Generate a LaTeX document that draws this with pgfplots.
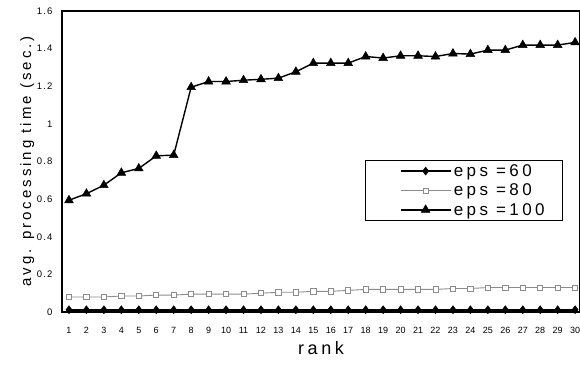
\documentclass[border=0pt]{standalone}
\usepackage{fontspec}
\setmainfont{Liberation Sans}
\newfontfamily\sptick[LetterSpace=12]{Liberation Sans}
\newfontfamily\splab[LetterSpace=20]{Liberation Sans}
\usepackage{pgfplots}
\pgfplotsset{compat=1.18}
\begin{document}
\begin{tikzpicture}[x=1pt,y=1pt]
\begin{axis}[
  scale only axis, width=518pt, height=301pt,
  xmin=0.6, xmax=30.28, ymin=0, ymax=1.6,
  clip=false,
  axis line style={line width=1.6pt},
  xtick={1,...,30}, ytick={0,0.2,...,1.6},
  major tick length=0pt,
  /pgf/number format/assume math mode=true,
  /pgf/number format/fixed, /pgf/number format/precision=1,
  xticklabel style={font=\fontsize{9}{10}\selectfont, yshift=-12pt},
  yticklabel style={font=\sptick\fontsize{9.5}{10}\selectfont, xshift=-6pt},
  xlabel={\splab rank}, xlabel style={font=\fontsize{18}{20}\selectfont, yshift=-1pt},
  ylabel={\splab avg. processing time (sec.)}, ylabel style={font=\fontsize{15}{17}\selectfont, yshift=-4pt},
  legend style={at={(rel axis cs:0.585,0.505)}, anchor=north west, draw=black, line width=0.8pt,
    inner xsep=16pt, inner ysep=2pt, row sep=2pt,
    font=\splab\fontsize{17}{18}\selectfont, nodes={inner sep=2pt}},
  legend cell align=left,
  legend image code/.code={\path (0pt,0pt); \draw[#1, no marks] plot coordinates {(18pt,0pt) (68pt,0pt)};
     \draw[#1, only marks] plot coordinates {(43pt,0pt)};},
]
\addplot[black, line width=2.4pt, mark=diamond*, mark size=4pt, mark options={line width=0.5pt}] coordinates {
(1,0.012)(2,0.012)(3,0.012)(4,0.012)(5,0.012)(6,0.012)(7,0.012)(8,0.012)(9,0.012)(10,0.012)
(11,0.012)(12,0.012)(13,0.012)(14,0.012)(15,0.012)(16,0.012)(17,0.012)(18,0.012)(19,0.012)(20,0.012)
(21,0.012)(22,0.012)(23,0.012)(24,0.012)(25,0.012)(26,0.012)(27,0.012)(28,0.012)(29,0.012)(30,0.012)};
\addlegendentry{eps =60}
\addplot[black!45, line width=0.9pt, mark=square*, mark size=2.6pt, mark options={fill=white, draw=black!45, line width=0.7pt}] coordinates {
(1,0.08)(2,0.08)(3,0.08)(4,0.085)(5,0.085)(6,0.09)(7,0.09)(8,0.095)(9,0.095)(10,0.095)
(11,0.095)(12,0.1)(13,0.105)(14,0.105)(15,0.11)(16,0.11)(17,0.115)(18,0.12)(19,0.12)(20,0.12)
(21,0.12)(22,0.12)(23,0.125)(24,0.125)(25,0.13)(26,0.13)(27,0.13)(28,0.13)(29,0.13)(30,0.13)};
\addlegendentry{eps =80}
\addplot[black, line width=1.4pt, mark=triangle*, mark size=5pt, mark options={line width=0.5pt}] coordinates {
(1,0.594)(2,0.629)(3,0.674)(4,0.74)(5,0.763)(6,0.83)(7,0.834)(8,1.195)(9,1.225)(10,1.225)
(11,1.232)(12,1.237)(13,1.243)(14,1.277)(15,1.323)(16,1.323)(17,1.323)(18,1.358)(19,1.35)(20,1.362)
(21,1.362)(22,1.358)(23,1.374)(24,1.371)(25,1.392)(26,1.392)(27,1.419)(28,1.419)(29,1.419)(30,1.433)};
\addlegendentry{eps =100\rule[-9pt]{0pt}{9pt}}
\end{axis}
\pgfresetboundingbox
\path (-62pt,-58pt) rectangle (518pt,312pt);
\end{tikzpicture}
\end{document}
